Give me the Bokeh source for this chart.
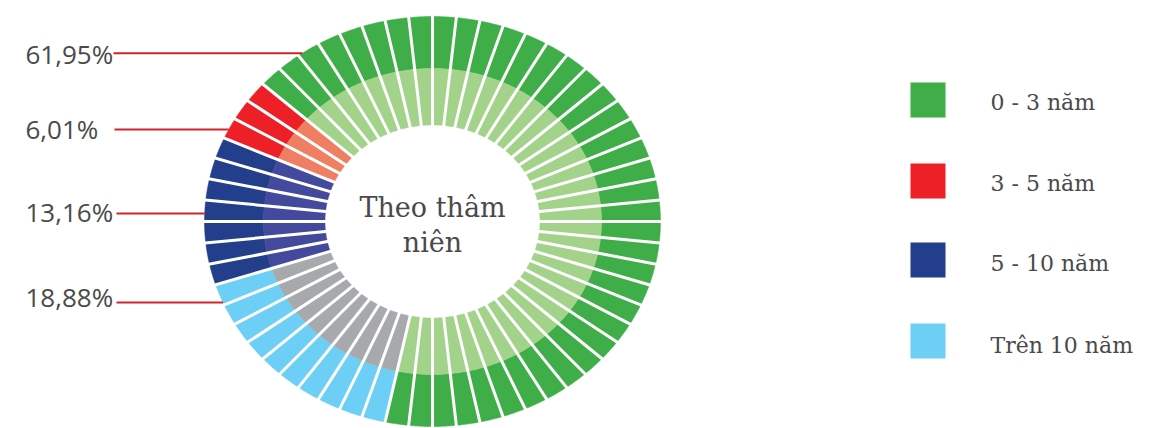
import numpy as np
from bokeh.plotting import figure
from bokeh.models import Range1d
from bokeh.core.properties import value
from bokeh.embed import file_html
from bokeh.resources import INLINE

# ---------------- data ----------------
categories = ["0 - 3 năm", "3 - 5 năm", "5 - 10 năm", "Trên 10 năm"]
shares = [61.95, 6.01, 13.16, 18.88]
share_labels = ["61,95%", "6,01%", "13,16%", "18,88%"]
segment_counts = [40, 3, 7, 10]          # bars per category

# ---------------- styles ----------------
outer_colors = ["#3fae49", "#ed2027", "#233e8b", "#6dcff6"]
inner_colors = ["#a3d28b", "#ef7e62", "#43499c", "#a7a9ac"]
text_color = "#4a4a4a"
leader_color = "#d2232a"

REF_H = 428
def Y(yref):
    return REF_H - yref

# layout (in reference pixel units)
cx, cy = 432.0, Y(221.0)
r_out = (228.0, 205.0)
r_mid = (169.0, 153.0)
r_in = (107.5, 96.5)
start_deg = -102.0          # math angle where the first category begins

p = figure(width=1170, height=428, x_range=Range1d(0, 1170), y_range=Range1d(0, 428),
           output_backend="svg", toolbar_location=None, min_border=0)
p.axis.visible = False
p.grid.visible = False
p.outline_line_color = None
p.background_fill_color = "white"
p.border_fill_color = "white"

total = sum(segment_counts)
step = 360.0 / total

def ring_patch(a0, a1, r1, r2, n=14):
    t = np.radians(np.linspace(a0, a1, n))
    xs = np.concatenate([cx + r2[0] * np.cos(t), cx + r1[0] * np.cos(t[::-1])])
    ys = np.concatenate([cy + r2[1] * np.sin(t), cy + r1[1] * np.sin(t[::-1])])
    return list(xs), list(ys)

oxs, oys, ocol, ixs, iys, icol = [], [], [], [], [], []
k = 0
for ci, cnt in enumerate(segment_counts):
    for j in range(cnt):
        a0 = start_deg + k * step
        a1 = a0 + step
        x, y = ring_patch(a0, a1, r_mid, r_out)
        oxs.append(x); oys.append(y); ocol.append(outer_colors[ci])
        x, y = ring_patch(a0, a1, r_in, r_mid)
        ixs.append(x); iys.append(y); icol.append(inner_colors[ci])
        k += 1

p.patches(xs=oxs, ys=oys, fill_color=ocol, line_color=ocol, line_width=0.5)
p.patches(xs=ixs, ys=iys, fill_color=icol, line_color=icol, line_width=0.5)

# white gaps between bars
ang = np.radians(start_deg + np.arange(total) * step)
p.segment(x0=cx + r_in[0] * 0.9 * np.cos(ang), y0=cy + r_in[1] * 0.9 * np.sin(ang),
          x1=cx + r_out[0] * 1.05 * np.cos(ang), y1=cy + r_out[1] * 1.05 * np.sin(ang),
          line_color="white", line_width=3)

# center title
serif = value("DejaVu Serif")
p.text(x=[cx, cx], y=[Y(206.5), Y(242)], text=["Theo thâm", "niên"],
       text_font=serif, text_font_size="27px", text_color=text_color,
       text_align="center", text_baseline="alphabetic")

# left labels with leader lines
label_line_y = [52.7, 129.0, 213.0, 302.0]
label_base_y = [53.3, 128.3, 211.3, 296.7]
line_start_x = [113.0, 114.0, 116.0, 116.0]
ly = np.array([Y(v) for v in label_line_y])
lx_end = cx - r_out[0] * np.sqrt(np.clip(1 - ((ly - cy) / r_out[1]) ** 2, 0, 1))
p.segment(x0=line_start_x, y0=ly, x1=lx_end, y1=ly, line_color=leader_color, line_width=2)
p.text(x=[25] * 4, y=[Y(v) for v in label_base_y], text=share_labels,
       text_font=value("Open Sans"), text_font_size="26px", text_color=text_color,
       text_align="left", text_baseline="alphabetic")

# legend
leg_center_y = [99.5, 180.5, 259.5, 340.5]
leg_base_y = [102.0, 183.0, 262.7, 345.3]
p.rect(x=[927.5] * 4, y=[Y(v) for v in leg_center_y], width=35, height=35,
       fill_color=outer_colors, line_color=None)
p.text(x=[990] * 4, y=[Y(v) for v in leg_base_y], text=categories,
       text_font=serif, text_font_size="22px", text_color=text_color,
       text_align="left", text_baseline="alphabetic")

open("out.html", "w").write(file_html(p, INLINE))
